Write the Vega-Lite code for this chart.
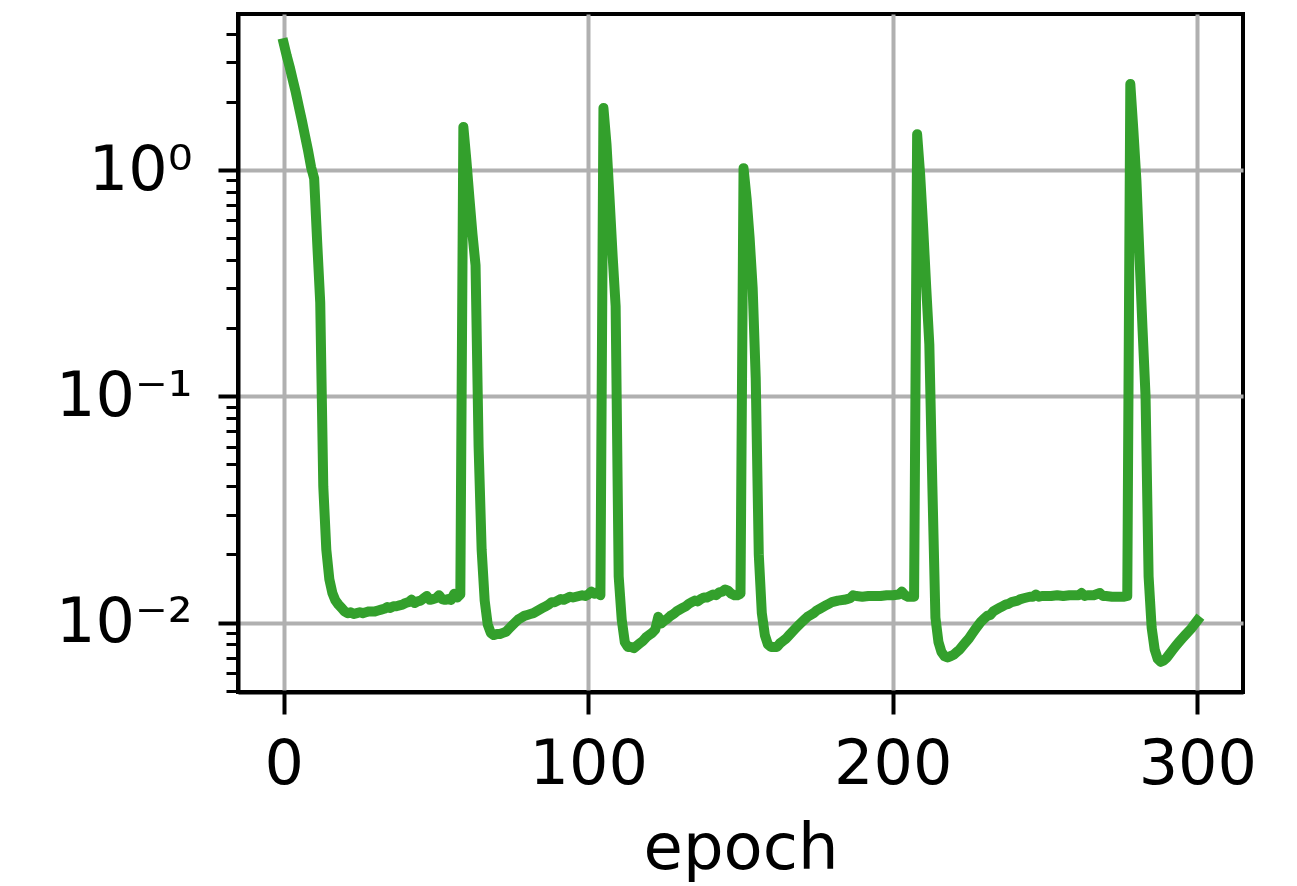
{
  "$schema": "https://vega.github.io/schema/vega-lite/v6.json",
  "autosize": "none",
  "width": 1005,
  "height": 678,
  "padding": {"left": 238, "top": 14, "right": 54, "bottom": 194},
  "background": "white",
  "config": {
    "font": "DejaVu Sans",
    "view": {"stroke": "black", "strokeWidth": 4}
  },
  "data": {
    "values": [
      {"epoch": 0, "loss": 3.64}, {"epoch": 1, "loss": 3.2}, {"epoch": 2, "loss": 2.85}, {"epoch": 3, "loss": 2.5},
      {"epoch": 4, "loss": 2.2}, {"epoch": 5, "loss": 1.9}, {"epoch": 6, "loss": 1.65}, {"epoch": 7, "loss": 1.42},
      {"epoch": 8, "loss": 1.22}, {"epoch": 9, "loss": 1.03}, {"epoch": 10, "loss": 0.92}, {"epoch": 11, "loss": 0.48},
      {"epoch": 12, "loss": 0.26}, {"epoch": 13, "loss": 0.04}, {"epoch": 14, "loss": 0.021}, {"epoch": 15, "loss": 0.0155},
      {"epoch": 16, "loss": 0.0135}, {"epoch": 17, "loss": 0.0125}, {"epoch": 18, "loss": 0.012}, {"epoch": 19, "loss": 0.0116},
      {"epoch": 20, "loss": 0.0112}, {"epoch": 21, "loss": 0.011}, {"epoch": 22, "loss": 0.0111}, {"epoch": 23, "loss": 0.0109},
      {"epoch": 24, "loss": 0.011}, {"epoch": 25, "loss": 0.0111}, {"epoch": 26, "loss": 0.011}, {"epoch": 27, "loss": 0.0111},
      {"epoch": 28, "loss": 0.0112}, {"epoch": 29, "loss": 0.0112}, {"epoch": 30, "loss": 0.0112}, {"epoch": 31, "loss": 0.0113},
      {"epoch": 32, "loss": 0.0114}, {"epoch": 33, "loss": 0.0115}, {"epoch": 34, "loss": 0.0117}, {"epoch": 35, "loss": 0.0116},
      {"epoch": 36, "loss": 0.0118}, {"epoch": 37, "loss": 0.0118}, {"epoch": 38, "loss": 0.0119}, {"epoch": 39, "loss": 0.012},
      {"epoch": 40, "loss": 0.0122}, {"epoch": 41, "loss": 0.0123}, {"epoch": 42, "loss": 0.0126}, {"epoch": 43, "loss": 0.0122},
      {"epoch": 44, "loss": 0.0124}, {"epoch": 45, "loss": 0.0125}, {"epoch": 46, "loss": 0.0128}, {"epoch": 47, "loss": 0.0131},
      {"epoch": 48, "loss": 0.0126}, {"epoch": 49, "loss": 0.0127}, {"epoch": 50, "loss": 0.0128}, {"epoch": 51, "loss": 0.0132},
      {"epoch": 52, "loss": 0.0127}, {"epoch": 53, "loss": 0.0126}, {"epoch": 54, "loss": 0.0127}, {"epoch": 55, "loss": 0.0126},
      {"epoch": 56, "loss": 0.0134}, {"epoch": 57, "loss": 0.0129}, {"epoch": 58, "loss": 0.0133},
      {"epoch": 59, "loss": 1.55}, {"epoch": 60, "loss": 1.1}, {"epoch": 61, "loss": 0.75}, {"epoch": 62, "loss": 0.52},
      {"epoch": 63, "loss": 0.38}, {"epoch": 64, "loss": 0.06}, {"epoch": 65, "loss": 0.021}, {"epoch": 66, "loss": 0.0125},
      {"epoch": 67, "loss": 0.0098}, {"epoch": 68, "loss": 0.009}, {"epoch": 69, "loss": 0.0088}, {"epoch": 70, "loss": 0.0089},
      {"epoch": 71, "loss": 0.0089}, {"epoch": 72, "loss": 0.009}, {"epoch": 73, "loss": 0.0091}, {"epoch": 74, "loss": 0.0094},
      {"epoch": 75, "loss": 0.0097}, {"epoch": 76, "loss": 0.01}, {"epoch": 77, "loss": 0.0103}, {"epoch": 78, "loss": 0.0105},
      {"epoch": 79, "loss": 0.0107}, {"epoch": 80, "loss": 0.0108}, {"epoch": 81, "loss": 0.0109}, {"epoch": 82, "loss": 0.011},
      {"epoch": 83, "loss": 0.0112}, {"epoch": 84, "loss": 0.0114}, {"epoch": 85, "loss": 0.0116}, {"epoch": 86, "loss": 0.0118},
      {"epoch": 87, "loss": 0.012}, {"epoch": 88, "loss": 0.0123}, {"epoch": 89, "loss": 0.0123}, {"epoch": 90, "loss": 0.0125},
      {"epoch": 91, "loss": 0.0127}, {"epoch": 92, "loss": 0.0126}, {"epoch": 93, "loss": 0.0128}, {"epoch": 94, "loss": 0.013},
      {"epoch": 95, "loss": 0.0129}, {"epoch": 96, "loss": 0.013}, {"epoch": 97, "loss": 0.0131}, {"epoch": 98, "loss": 0.0132},
      {"epoch": 99, "loss": 0.0131}, {"epoch": 100, "loss": 0.0133}, {"epoch": 101, "loss": 0.0137}, {"epoch": 102, "loss": 0.0134},
      {"epoch": 103, "loss": 0.0136}, {"epoch": 104, "loss": 0.0132},
      {"epoch": 105, "loss": 1.88}, {"epoch": 106, "loss": 1.3}, {"epoch": 107, "loss": 0.75}, {"epoch": 108, "loss": 0.42},
      {"epoch": 109, "loss": 0.25}, {"epoch": 110, "loss": 0.016}, {"epoch": 111, "loss": 0.0103}, {"epoch": 112, "loss": 0.0082},
      {"epoch": 113, "loss": 0.0078}, {"epoch": 114, "loss": 0.0078}, {"epoch": 115, "loss": 0.0077}, {"epoch": 116, "loss": 0.0079},
      {"epoch": 117, "loss": 0.0081}, {"epoch": 118, "loss": 0.0083}, {"epoch": 119, "loss": 0.0086}, {"epoch": 120, "loss": 0.0088},
      {"epoch": 121, "loss": 0.009}, {"epoch": 122, "loss": 0.0093}, {"epoch": 123, "loss": 0.0106}, {"epoch": 124, "loss": 0.0099},
      {"epoch": 125, "loss": 0.0102}, {"epoch": 126, "loss": 0.0104}, {"epoch": 127, "loss": 0.0107}, {"epoch": 128, "loss": 0.0109},
      {"epoch": 129, "loss": 0.0112}, {"epoch": 130, "loss": 0.0114}, {"epoch": 131, "loss": 0.0116}, {"epoch": 132, "loss": 0.0118},
      {"epoch": 133, "loss": 0.0121}, {"epoch": 134, "loss": 0.0123}, {"epoch": 135, "loss": 0.0125}, {"epoch": 136, "loss": 0.0124},
      {"epoch": 137, "loss": 0.0127}, {"epoch": 138, "loss": 0.0129}, {"epoch": 139, "loss": 0.0129}, {"epoch": 140, "loss": 0.0131},
      {"epoch": 141, "loss": 0.0133}, {"epoch": 142, "loss": 0.0132}, {"epoch": 143, "loss": 0.0136}, {"epoch": 144, "loss": 0.0137},
      {"epoch": 145, "loss": 0.014}, {"epoch": 146, "loss": 0.0138}, {"epoch": 147, "loss": 0.0134}, {"epoch": 148, "loss": 0.0132},
      {"epoch": 149, "loss": 0.0132}, {"epoch": 150, "loss": 0.0134},
      {"epoch": 151, "loss": 1.02}, {"epoch": 152, "loss": 0.75}, {"epoch": 153, "loss": 0.5}, {"epoch": 154, "loss": 0.3},
      {"epoch": 155, "loss": 0.12}, {"epoch": 156, "loss": 0.02}, {"epoch": 157, "loss": 0.011}, {"epoch": 158, "loss": 0.0088},
      {"epoch": 159, "loss": 0.008}, {"epoch": 160, "loss": 0.0078}, {"epoch": 161, "loss": 0.0078}, {"epoch": 162, "loss": 0.0078},
      {"epoch": 163, "loss": 0.0081}, {"epoch": 164, "loss": 0.0083}, {"epoch": 165, "loss": 0.0085}, {"epoch": 166, "loss": 0.0088},
      {"epoch": 167, "loss": 0.0091}, {"epoch": 168, "loss": 0.0094}, {"epoch": 169, "loss": 0.0097}, {"epoch": 170, "loss": 0.01},
      {"epoch": 171, "loss": 0.0103}, {"epoch": 172, "loss": 0.0106}, {"epoch": 173, "loss": 0.0108}, {"epoch": 174, "loss": 0.011},
      {"epoch": 175, "loss": 0.0113}, {"epoch": 176, "loss": 0.0115}, {"epoch": 177, "loss": 0.0117}, {"epoch": 178, "loss": 0.0119},
      {"epoch": 179, "loss": 0.0121}, {"epoch": 180, "loss": 0.0123}, {"epoch": 182, "loss": 0.0125}, {"epoch": 184, "loss": 0.0126},
      {"epoch": 185, "loss": 0.0127}, {"epoch": 186, "loss": 0.0128}, {"epoch": 187, "loss": 0.0132}, {"epoch": 188, "loss": 0.0131},
      {"epoch": 190, "loss": 0.013}, {"epoch": 192, "loss": 0.0131}, {"epoch": 194, "loss": 0.0131}, {"epoch": 196, "loss": 0.0131},
      {"epoch": 198, "loss": 0.0132}, {"epoch": 200, "loss": 0.0132}, {"epoch": 202, "loss": 0.0133}, {"epoch": 203, "loss": 0.0137},
      {"epoch": 204, "loss": 0.0132}, {"epoch": 205, "loss": 0.013}, {"epoch": 206, "loss": 0.013}, {"epoch": 207, "loss": 0.013},
      {"epoch": 208, "loss": 1.44}, {"epoch": 209, "loss": 0.95}, {"epoch": 210, "loss": 0.55}, {"epoch": 211, "loss": 0.3},
      {"epoch": 212, "loss": 0.17}, {"epoch": 213, "loss": 0.04}, {"epoch": 214, "loss": 0.0105}, {"epoch": 215, "loss": 0.0082},
      {"epoch": 216, "loss": 0.0074}, {"epoch": 217, "loss": 0.0071}, {"epoch": 218, "loss": 0.007}, {"epoch": 219, "loss": 0.0071},
      {"epoch": 220, "loss": 0.0072}, {"epoch": 221, "loss": 0.0074}, {"epoch": 222, "loss": 0.0076}, {"epoch": 223, "loss": 0.0079},
      {"epoch": 224, "loss": 0.0082}, {"epoch": 225, "loss": 0.0085}, {"epoch": 226, "loss": 0.0089}, {"epoch": 227, "loss": 0.0093},
      {"epoch": 228, "loss": 0.0097}, {"epoch": 229, "loss": 0.0101}, {"epoch": 230, "loss": 0.0104}, {"epoch": 231, "loss": 0.0107},
      {"epoch": 232, "loss": 0.0108}, {"epoch": 233, "loss": 0.0112}, {"epoch": 234, "loss": 0.0114}, {"epoch": 235, "loss": 0.0116},
      {"epoch": 236, "loss": 0.0118}, {"epoch": 237, "loss": 0.012}, {"epoch": 238, "loss": 0.0121}, {"epoch": 239, "loss": 0.0123},
      {"epoch": 240, "loss": 0.0124}, {"epoch": 241, "loss": 0.0125}, {"epoch": 242, "loss": 0.0127}, {"epoch": 243, "loss": 0.0128},
      {"epoch": 244, "loss": 0.0129}, {"epoch": 245, "loss": 0.013}, {"epoch": 246, "loss": 0.013}, {"epoch": 247, "loss": 0.0133},
      {"epoch": 248, "loss": 0.013}, {"epoch": 249, "loss": 0.0131}, {"epoch": 250, "loss": 0.0131}, {"epoch": 252, "loss": 0.0131},
      {"epoch": 254, "loss": 0.0132}, {"epoch": 256, "loss": 0.0131}, {"epoch": 258, "loss": 0.0132}, {"epoch": 260, "loss": 0.0132},
      {"epoch": 261, "loss": 0.0132}, {"epoch": 262, "loss": 0.0135}, {"epoch": 263, "loss": 0.0131}, {"epoch": 264, "loss": 0.0132},
      {"epoch": 266, "loss": 0.0132}, {"epoch": 268, "loss": 0.0135}, {"epoch": 269, "loss": 0.0131}, {"epoch": 270, "loss": 0.0131},
      {"epoch": 272, "loss": 0.013}, {"epoch": 274, "loss": 0.013}, {"epoch": 276, "loss": 0.013}, {"epoch": 277, "loss": 0.0131},
      {"epoch": 278, "loss": 2.4}, {"epoch": 279, "loss": 1.5}, {"epoch": 280, "loss": 0.9}, {"epoch": 281, "loss": 0.42},
      {"epoch": 282, "loss": 0.2}, {"epoch": 283, "loss": 0.1}, {"epoch": 284, "loss": 0.016}, {"epoch": 285, "loss": 0.0095},
      {"epoch": 286, "loss": 0.0076}, {"epoch": 287, "loss": 0.0069}, {"epoch": 288, "loss": 0.0067}, {"epoch": 289, "loss": 0.0068},
      {"epoch": 290, "loss": 0.007}, {"epoch": 291, "loss": 0.0073}, {"epoch": 292, "loss": 0.0076}, {"epoch": 293, "loss": 0.0079},
      {"epoch": 294, "loss": 0.0082}, {"epoch": 295, "loss": 0.0085}, {"epoch": 296, "loss": 0.0088}, {"epoch": 297, "loss": 0.0091},
      {"epoch": 298, "loss": 0.0094}, {"epoch": 299, "loss": 0.0098}, {"epoch": 300, "loss": 0.0102}
    ]
  },
  "mark": {
    "type": "line",
    "color": "#33a02c",
    "strokeWidth": 10,
    "strokeCap": "square",
    "strokeJoin": "round",
    "clip": true
  },
  "encoding": {
    "x": {
      "field": "epoch",
      "type": "quantitative",
      "scale": {"domain": [-15, 315], "nice": false, "zero": false},
      "axis": {
        "title": "epoch",
        "values": [0, 100, 200, 300],
        "format": "d",
        "grid": true,
        "gridColor": "#b0b0b0",
        "gridWidth": 4,
        "gridOpacity": 1,
        "domain": true,
        "domainColor": "black",
        "domainWidth": 4,
        "ticks": true,
        "tickColor": "black",
        "tickWidth": 4,
        "tickSize": 22,
        "labelFont": "DejaVu Sans",
        "labelFontSize": 62,
        "labelColor": "black",
        "labelPadding": 20,
        "labelFlush": false,
        "labelOverlap": false,
        "titleFont": "DejaVu Sans",
        "titleFontSize": 64,
        "titleFontWeight": "normal",
        "titleColor": "black",
        "titleBaseline": "alphabetic",
        "titleY": 176
      }
    },
    "y": {
      "field": "loss",
      "type": "quantitative",
      "scale": {"type": "log", "domain": [0.00493, 4.9], "nice": false},
      "axis": {
        "title": null,
        "values": [0.005, 0.006, 0.007, 0.008, 0.009, 0.01, 0.02, 0.03, 0.04, 0.05, 0.06, 0.07, 0.08, 0.09, 0.1, 0.2, 0.3, 0.4, 0.5, 0.6, 0.7, 0.8, 0.9, 1, 2, 3, 4],
        "labelExpr": "datum.value == 1 ? '10⁰' : datum.value == 0.1 ? '10⁻¹' : datum.value == 0.01 ? '10⁻²' : ''",
        "grid": true,
        "gridColor": "#b0b0b0",
        "gridWidth": 4,
        "gridOpacity": {"condition": {"test": "datum.value == 1 || datum.value == 0.1 || datum.value == 0.01", "value": 1}, "value": 0},
        "domain": true,
        "domainColor": "black",
        "domainWidth": 4,
        "ticks": true,
        "tickColor": "black",
        "tickWidth": {"condition": {"test": "datum.value == 1 || datum.value == 0.1 || datum.value == 0.01", "value": 4}, "value": 3},
        "tickSize": {"condition": {"test": "datum.value == 1 || datum.value == 0.1 || datum.value == 0.01", "value": 20}, "value": 12},
        "labelFont": "DejaVu Sans",
        "labelFontSize": 62,
        "labelColor": "black",
        "labelPadding": 26,
        "labelOverlap": false,
        "labelFlush": false,
        "labelBaseline": "middle"
      }
    }
  }
}
